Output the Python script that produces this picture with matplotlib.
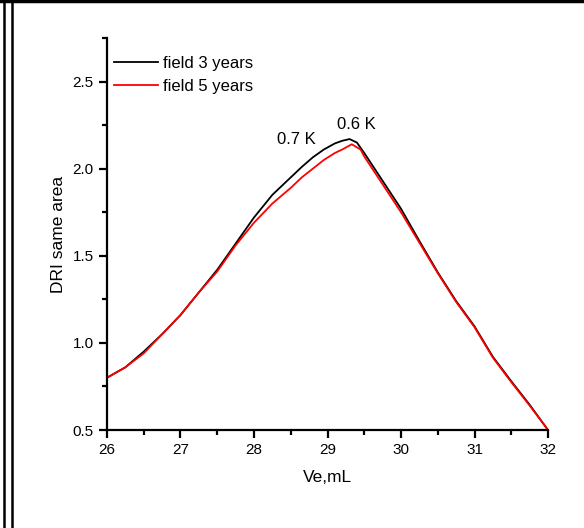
import matplotlib
matplotlib.use("Agg")
import matplotlib.pyplot as plt
from matplotlib.ticker import MultipleLocator, FormatStrFormatter
from matplotlib.lines import Line2D

plt.rcParams['font.family'] = ['Liberation Sans', 'DejaVu Sans']

# elution volume (mL) and DRI signal
ve_3y = [26.0, 26.25, 26.5, 26.75, 27.0, 27.25, 27.5, 27.75, 28.0, 28.25, 28.5, 28.65,
         28.8, 28.95, 29.1, 29.2, 29.3, 29.4, 29.5, 29.75, 30.0, 30.25, 30.5, 30.75,
         31.0, 31.25, 31.5, 31.75, 32.0]
dri_3y = [0.80, 0.86, 0.95, 1.05, 1.16, 1.29, 1.42, 1.57, 1.72, 1.85, 1.95, 2.01,
          2.065, 2.11, 2.145, 2.16, 2.17, 2.15, 2.09, 1.93, 1.77, 1.585, 1.405, 1.24,
          1.095, 0.92, 0.78, 0.645, 0.50]
ve_5y = [26.0, 26.25, 26.5, 26.75, 27.0, 27.25, 27.5, 27.75, 28.0, 28.25, 28.5, 28.65,
         28.8, 28.95, 29.1, 29.2, 29.33, 29.45, 29.5, 29.75, 30.0, 30.25, 30.5, 30.75,
         31.0, 31.25, 31.5, 31.75, 32.0]
dri_5y = [0.80, 0.86, 0.94, 1.05, 1.16, 1.29, 1.41, 1.56, 1.69, 1.80, 1.89, 1.95,
          2.00, 2.05, 2.09, 2.11, 2.14, 2.11, 2.07, 1.91, 1.75, 1.575, 1.40, 1.235,
          1.09, 0.915, 0.775, 0.64, 0.50]
labels = ["field 3 years", "field 5 years"]

fig = plt.figure(figsize=(5.84, 5.28), dpi=100)
ax = fig.add_axes([0.1832, 0.1856, 0.7552, 0.7424])

ax.plot(ve_3y, dri_3y, color='black', lw=1.3)
ax.plot(ve_5y, dri_5y, color='red', lw=1.3)

ax.set_xlim(26, 32)
ax.set_ylim(0.5, 2.75)
ax.xaxis.set_major_locator(MultipleLocator(1))
ax.xaxis.set_minor_locator(MultipleLocator(0.5))
ax.yaxis.set_major_locator(MultipleLocator(0.5))
ax.yaxis.set_minor_locator(MultipleLocator(0.25))
ax.yaxis.set_major_formatter(FormatStrFormatter('%.1f'))

for s in ['top', 'right']:
    ax.spines[s].set_visible(False)
for s in ['left', 'bottom']:
    ax.spines[s].set_linewidth(1.6)
ax.tick_params(which='major', direction='out', length=6, width=1.6, labelsize=11)
ax.tick_params(which='minor', direction='out', length=3.5, width=1.6)

ax.set_xlabel("Ve,mL", fontsize=12.5, labelpad=9)
ax.set_ylabel("DRI same area", fontsize=12.5, labelpad=5)

ax.text(28.57, 2.17, "0.7 K", fontsize=12, ha='center', va='center')
ax.text(29.39, 2.255, "0.6 K", fontsize=12, ha='center', va='center')

handles = [Line2D([], [], color='black', lw=1.3), Line2D([], [], color='red', lw=1.3)]
ax.legend(handles, labels, loc='upper left', bbox_to_anchor=(-0.01, 0.985), frameon=False,
          fontsize=12, handlelength=2.6, handletextpad=0.35, labelspacing=0.5,
          borderaxespad=0.3)

# page frame
fig.add_artist(Line2D([0, 1], [0.998, 0.998], color='black', lw=2.5, transform=fig.transFigure))
fig.add_artist(Line2D([0.007, 0.007], [0, 1], color='black', lw=1.8, transform=fig.transFigure))
fig.add_artist(Line2D([0.021, 0.021], [0, 1], color='black', lw=1.8, transform=fig.transFigure))

fig.savefig("out.png", dpi=100)
